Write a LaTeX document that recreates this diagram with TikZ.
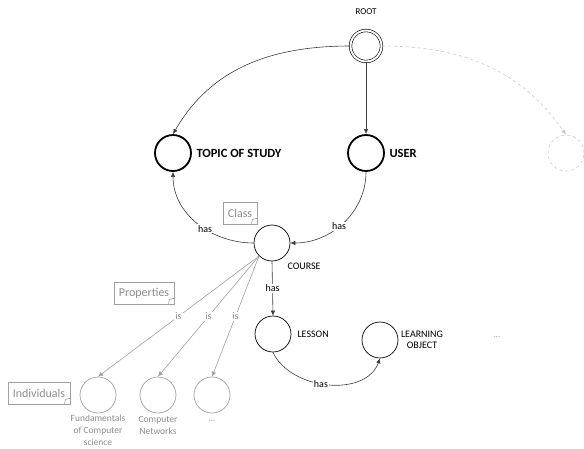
\documentclass[tikz,border=0pt]{standalone}
\usepackage{fontspec}
\setmainfont{Carlito}
\usetikzlibrary{arrows.meta}
\definecolor{greyline}{HTML}{A0A0A0}
\definecolor{greytext}{HTML}{8C8C8C}
\definecolor{darkline}{HTML}{3C3C3C}
\definecolor{ghostline}{HTML}{C8C8C8}
\newcommand{\foldcorner}[1]{\draw[greyline,line width=0.6pt] ([xshift=-6pt]#1.south east) -- ([xshift=-5pt,yshift=5pt]#1.south east) -- ([yshift=6pt]#1.south east);}
\begin{document}
\begin{tikzpicture}[x=1pt,y=1pt,
	concept/.style={circle,draw=black,line width=0.7pt,minimum size=36pt,inner sep=0pt},
	topconcept/.style={concept,line width=1.8pt},
	individual/.style={circle,draw=greyline,line width=0.7pt,minimum size=36pt,inner sep=0pt},
	rel/.style={draw=darkline,line width=0.6pt,-{Latex[length=5pt,width=4.5pt]}},
	isrel/.style={draw=greyline,line width=0.6pt,-{Latex[length=5pt,width=4.5pt]}},
	haslbl/.style={font=\fontsize{10}{11}\selectfont,fill=white,inner sep=1pt},
	islbl/.style={haslbl,text=greytext},
	conceptlbl/.style={font=\fontsize{10}{12}\selectfont,anchor=west},
	notebox/.style={draw=greyline,text=greytext,line width=0.6pt,font=\fontsize{12}{13}\selectfont,inner xsep=5pt,minimum height=22pt}]
	\useasboundingbox (0,0) rectangle (584,-448);
	
	%concepts
	\node[concept,double=white,double distance=2pt,line width=0.6pt,minimum size=31pt](root) at (366,-46) {};
	\node[topconcept](topic) at (173,-153) {};
	\node[topconcept](user) at (366,-153) {};
	\node[circle,draw=ghostline,dashed,line width=0.6pt,minimum size=36pt](ghost) at (566,-153) {};
	\node[concept](course) at (272,-243) {};
	\node[concept](lesson) at (273,-334) {};
	\node[concept](lobject) at (380,-340) {};
	%individuals
	\node[individual](fundcs) at (98,-395) {};
	\node[individual](netw) at (158,-395) {};
	\node[individual](moreind) at (212,-395) {};
	
	%labels
	\node[font=\fontsize{9}{10}\selectfont](rootlbl) at (366,-12) {ROOT};
	\node[conceptlbl,font=\bfseries\fontsize{12.5}{14}\selectfont](topiclbl) at (193,-153) {TOPIC OF STUDY};
	\node[conceptlbl,font=\bfseries\fontsize{12.5}{14}\selectfont](userlbl) at (386,-153) {USER};
	\node[conceptlbl](courselbl) at (284,-266) {COURSE};
	\node[conceptlbl](lessonlbl) at (294,-334) {LESSON};
	\node[font=\fontsize{10}{11.5}\selectfont,align=center](lobjectlbl) at (422,-340) {LEARNING\\OBJECT};
	\node[text=greytext,font=\fontsize{8}{10}\selectfont](morelbl) at (497,-337) {...};
	\node[text=greytext,font=\fontsize{9.5}{12}\selectfont,align=center,anchor=north](fundcslbl) at (98,-411) {Fundamentals\\of Computer\\science};
	\node[text=greytext,font=\fontsize{9.5}{12}\selectfont,align=center,anchor=north](netwlbl) at (158,-413) {Computer\\Networks};
	\node[text=greytext,font=\fontsize{8}{10}\selectfont](moreindlbl) at (212,-421) {...};
	
	%notes
	\node[notebox](classnote) at (240,-213) {Class};
	\foldcorner{classnote}
	\node[notebox](propnote) at (144,-293) {Properties};
	\foldcorner{propnote}
	\node[notebox](indnote) at (39,-393) {Individuals};
	\foldcorner{indnote}
	
	%arrows
	\draw[rel] (root.west) to[out=180,in=60] (topic.north);
	\draw[rel] (root.south) -- (user.north);
	\draw[draw=ghostline,dashed,line width=0.6pt,-{Latex[length=5pt,width=4.5pt]}] (root.east) to[out=0,in=125] (ghost.north);
	\draw[rel] (course.west) to[out=180,in=-90] node[haslbl,pos=0.42]{has} (topic.south);
	\draw[rel] (user.south) to[out=-90,in=0] node[haslbl,pos=0.55]{has} (course.east);
	\draw[rel] (course.south) -- node[haslbl]{has} (lesson.north);
	\draw[rel] (lesson.south) to[out=-65,in=-110] node[haslbl,pos=0.45]{has} (lobject.south);
	\draw[isrel] (course.south west) -- node[islbl]{is} (fundcs.north);
	\draw[isrel] (course.south west) -- node[islbl]{is} (netw.north);
	\draw[isrel] (course.south west) -- node[islbl]{is} (moreind.north);
\end{tikzpicture}
\end{document}
